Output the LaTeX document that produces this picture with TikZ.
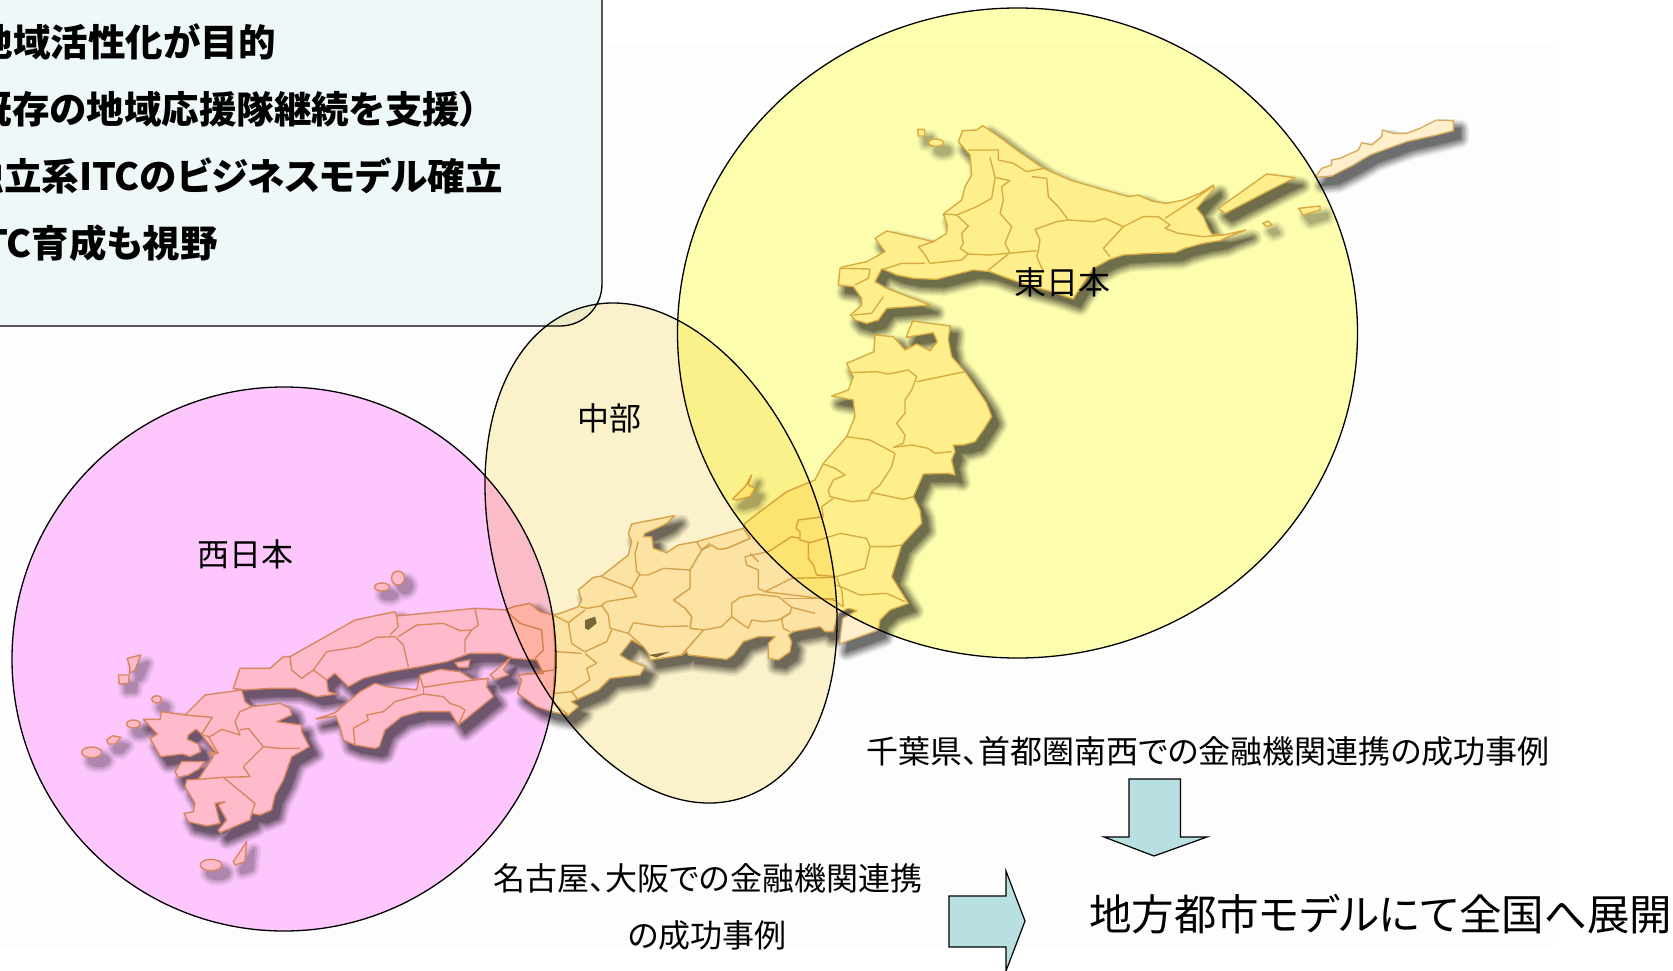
\documentclass[tikz,border=0pt]{standalone}
\usepackage{fontspec}
\setmainfont{Noto Sans CJK JP}[RawFeature={+palt}]
\usetikzlibrary{shapes.geometric}
\definecolor{landfill}{HTML}{FFEFCC}
\definecolor{landline}{HTML}{D8AC60}
\definecolor{westc}{HTML}{FFC8FF}
\definecolor{eastc}{HTML}{FFFFB0}
\definecolor{midc}{HTML}{FDF3CC}
\definecolor{boxc}{HTML}{EEF8F8}
\definecolor{arrowc}{HTML}{B8DFE2}
\definecolor{bgc}{HTML}{FDFDFD}
\definecolor{lakec}{HTML}{7A6C48}
\tikzset{
  zh/.style={shift={(830,100)},x=0.33333pt,y=-0.33333pt},
  zt/.style={shift={(720,320)},x=0.33333pt,y=-0.33333pt},
  zc/.style={shift={(500,500)},x=0.33333pt,y=-0.33333pt},
  zw/.style={shift={(220,590)},x=0.33333pt,y=-0.33333pt},
  zk/.style={shift={(70,640)},x=0.33333pt,y=-0.33333pt},
  zq/.style={shift={(1290,100)},x=0.33333pt,y=-0.33333pt},
  border/.style={draw=landline,line width=1.4pt,line join=round},
  area/.style={ellipse,draw=black,line width=1.3pt,inner sep=0pt,blend mode=multiply},
  lab/.style={font=\fontsize{32}{32}\selectfont,inner sep=0pt},
  boxtext/.style={font=\fontsize{37.5}{37.5}\selectfont\bfseries,inner sep=0pt,anchor=east},
  bigarrow/.style={draw=black,line width=1.2pt,fill=arrowc,line join=miter}
}
% land masses
\newcommand\pHk{plot coordinates {(458,77)(500,105)(560,150)(640,205)(720,240)(815,268)(860,280)(895,290)(925,285)(965,303)(1010,310)(1060,300)(1110,280)(1150,255)(1153,265)(1130,290)(1100,325)(1120,350)(1135,385)(1145,402)(1180,405)(1248,390)(1195,410)(1170,422)(1120,430)(1065,445)(1035,458)(960,460)(880,465)(840,478)(790,505)(740,580)(730,597)(665,575)(590,555)(520,530)(480,515)(430,510)(370,525)(320,538)(250,535)(200,525)(165,510)(155,507)(135,545)(170,565)(300,615)(240,620)(170,625)(145,660)(110,670)(75,660)(62,645)(95,615)(95,595)(70,560)(25,555)(30,505)(40,500)(110,485)(165,455)(135,415)(170,393)(280,418)(310,425)(350,400)(352,375)(340,342)(395,300)(405,260)(425,225)(420,165)(385,125)(398,92)(440,90)} -- cycle}
\newcommand\pKu{plot coordinates {(1165,325)(1310,222)(1395,233)(1330,265)(1185,340)} -- cycle}
\newcommand\pEt{plot coordinates {(75,232)(95,205)(125,195)(125,180)(150,175)(205,150)(215,128)(245,135)(275,110)(278,90)(310,100)(350,100)(390,85)(440,60)(490,62)(490,92)(440,105)(350,125)(240,165)(190,195)(125,228)} -- cycle}
\newcommand\pEast{plot coordinates {(578,3)(690,18)(685,60)(695,110)(735,155)(770,205)(800,250)(815,290)(790,330)(765,365)(730,375)(700,375)(705,395)(695,420)(705,465)(685,460)(610,462)(580,530)(600,570)(605,610)(545,675)(515,770)(565,850)(510,870)(480,900)(475,930)(358,972)(368,895)(410,872)(385,865)(355,880)(345,915)(340,935)(315,935)(300,920)(220,935)(205,945)(215,965)(210,995)(175,1020)(145,1015)(145,970)(165,950)(115,950)(70,965)(40,1005)(20,1018)(-95,1005)(-100,995)(-115,1005)(-50,930)(-90,925)(-85,890)(-105,865)(-140,840)(-90,805)(-90,750)(-55,690)(-25,675)(-5,688)(20,685)(90,655)(70,625)(75,610)(120,575)(200,515)(285,480)(310,430)(380,350)(405,290)(400,240)(335,228)(385,210)(400,170)(380,130)(462,95)(465,45)(520,50)(555,90)(590,72)(630,92)(652,65)(640,38)(558,52)} -- cycle}
\newcommand\pChu{plot coordinates {(385,100)(395,72)(523,47)(500,70)(470,85)(435,100)(430,110)(455,110)(460,145)(500,158)(535,135)(590,125)(730,85)(750,115)(680,145)(655,148)(635,135)(605,150)(570,210)(570,265)(520,300)(555,325)(575,350)(570,385)(610,390)(545,465)(450,480)(445,460)(430,440)(395,420)(360,465)(385,480)(435,500)(420,525)(330,535)(295,570)(215,605)(235,620)(205,645)(160,610)(165,460)(160,345)(180,340)(235,320)(245,300)(235,270)(280,232)(305,228)(385,165)(395,125)} -- cycle}
\newcommand\pWest{plot coordinates {(1000,75)(960,65)(930,40)(880,50)(855,60)(765,55)(530,78)(525,65)(405,90)(210,200)(190,200)(150,235)(60,235)(40,295)(75,300)(150,295)(225,295)(290,320)(350,312)(325,305)(320,270)(345,250)(385,290)(430,265)(510,245)(600,230)(680,215)(750,190)(840,190)(880,205)(950,210)(970,250)(895,255)(905,270)(893,310)(950,350)(995,365)(1045,375)(1000,340)(1005,190)} -- cycle}
\newcommand\pShi{plot coordinates {(288,387)(345,368)(420,305)(465,280)(500,290)(590,300)(600,255)(660,238)(720,245)(760,270)(805,265)(800,290)(820,320)(715,405)(690,365)(600,365)(545,380)(495,420)(478,470)(465,475)(405,465)(370,450)(360,410)(347,378)} -- cycle}
\newcommand\pKyu{plot coordinates {(405,165)(515,150)(525,185)(545,200)(630,190)(660,205)(665,225)(620,245)(695,255)(695,275)(718,320)(665,350)(640,420)(615,465)(605,510)(570,525)(545,520)(540,540)(450,578)(445,570)(470,540)(445,495)(465,485)(435,490)(450,550)(410,558)(355,545)(342,520)(370,515)(375,490)(345,440)(350,420)(385,418)(430,350)(415,335)(440,340)(415,310)(395,285)(420,235)(345,225)} -- cycle}
\newcommand\pNag{plot coordinates {(220,238)(270,238)(275,215)(345,225)(427,232)(395,282)(378,268)(355,285)(352,298)(385,312)(392,335)(360,350)(338,342)(272,350)(240,295)(262,282)} -- cycle}
\newcommand\pAma{plot coordinates {(315,395)(335,365)(405,365)(385,388)(355,405)(325,412)} -- cycle}
\newcommand\pAwa{plot coordinates {(810,255)(870,205)(850,240)(865,255)(825,268)} -- cycle}
\newcommand\AllLand[1]{%
  \begin{scope}[zh]\path[#1] \pHk; \path[#1] \pKu;\end{scope}
  \begin{scope}[zq]\path[#1] \pEt;\end{scope}
  \begin{scope}[zt]\path[#1] \pEast;\end{scope}
  \begin{scope}[zc]\path[#1] \pChu;\end{scope}
  \begin{scope}[zw]\path[#1] \pWest; \path[#1] \pShi; \path[#1] \pAwa;\end{scope}
  \begin{scope}[zk]\path[#1] \pKyu; \path[#1] \pNag; \path[#1] \pAma;\end{scope}
}
\newcommand\AllIsles[1]{%
  \begin{scope}[zh]
    \path[#1] plot coordinates {(263,88)(283,88)(285,108)(265,108)} -- cycle;
    \path[#1] (318,128) ellipse [x radius=22,y radius=11];
    \path[#1] plot coordinates {(1405,325)(1470,318)(1470,330)(1420,345)} -- cycle;
    \path[#1] plot coordinates {(1298,370)(1315,363)(1325,375)(1310,380)} -- cycle;
  \end{scope}
  \begin{scope}[zt]
    \path[#1] plot coordinates {(38,537)(75,500)(95,465)(85,495)(105,505)(90,530)(50,540)} -- cycle;
  \end{scope}
  \begin{scope}[zw]
    \path[#1] plot coordinates {(705,218)(750,210)(745,232)(715,232)} -- cycle;
  \end{scope}
  \begin{scope}[zk]
    \path[#1] plot coordinates {(172,55)(212,45)(195,90)(178,100)(180,85)} -- cycle;
    \path[#1] plot coordinates {(145,105)(178,105)(175,130)(148,132)} -- cycle;
    \path[#1] (260,178) ellipse [x radius=15,y radius=11];
    \path[#1] (190,252) ellipse [x radius=20,y radius=12];
    \path[#1] plot coordinates {(110,300)(128,287)(152,292)(135,312)(115,312)} -- cycle;
    \path[#1] (65,337) ellipse [x radius=30,y radius=16];
    \path[#1] (423,675) ellipse [x radius=32,y radius=17];
    \path[#1] plot coordinates {(490,665)(530,605)(525,665)(495,675)} -- cycle;
  \end{scope}
  \path[#1] (382,587) ellipse [x radius=7.5,y radius=4];
  \path[#1] (398,578) ellipse [x radius=6.5,y radius=7];
}
\newcommand\ShadowLayer[2]{%
  \begin{scope}[transparency group,opacity=#2,shift={(7,8)}]
    \AllLand{fill=black,draw=black,line width=#1pt,line join=round}
  \end{scope}}
\newcommand\IsleShadow[2]{%
  \begin{scope}[transparency group,opacity=#2,shift={(7,8)}]
    \AllIsles{fill=black,draw=black,line width=#1pt,line join=round}
  \end{scope}}
\begin{document}
\begin{tikzpicture}[x=1pt,y=-1pt]
\clip (0,0) rectangle (1673,971);
\fill[white] (0,0) rectangle (1673,971);
\fill[bgc] (0,43) rectangle (1553,947);
% text box
\draw[fill=boxc,draw=black,line width=1.3pt,rounded corners=42pt] (-80,-80) rectangle (602,326);
\node[boxtext] (t1) at (276,42) {地域活性化が目的};
\node[boxtext] (t2) at (479,109) {既存の地域応援隊継続を支援）};
\node[boxtext] (t3) at (503,176) {独立系ITCのビジネスモデル確立};
\node[boxtext] (t4) at (218,243) {ITC育成も視野};
% shadows
\ShadowLayer{18}{.06}\ShadowLayer{15}{.08}\ShadowLayer{12}{.1}\ShadowLayer{9}{.12}\ShadowLayer{6}{.12}\ShadowLayer{3}{.14}\ShadowLayer{0.5}{.14}
\IsleShadow{15}{.05}\IsleShadow{11}{.08}\IsleShadow{7}{.1}\IsleShadow{3}{.12}
% land
\AllLand{fill=landfill,border}
\AllIsles{fill=landfill,border}
% borders: Hokkaido
\begin{scope}[zh]
\draw[border] plot coordinates {(415,150)(505,150)(505,180)(550,190)(590,215)(640,205)};
\draw[border] plot coordinates {(480,172)(495,232)(540,242)(515,260)(520,300)(510,340)(545,380)(525,430)(540,460)};
\draw[border] plot coordinates {(495,235)(485,295)(440,320)(380,345)(340,342)};
\draw[border] plot coordinates {(380,345)(415,378)(395,400)(400,430)(390,445)(415,462)(480,465)(535,460)};
\draw[border] plot coordinates {(605,230)(650,235)(655,290)(685,320)(715,360)(790,365)(825,355)(880,380)(940,350)(985,350)(1020,375)(1005,385)(1045,400)(1120,410)(1180,405)};
\draw[border] plot coordinates {(715,360)(680,365)(615,388)(630,420)(625,452)(620,470)(640,515)};
\draw[border] plot coordinates {(535,460)(620,452)};
\draw[border] plot coordinates {(535,462)(475,510)};
\draw[border] plot coordinates {(880,380)(820,445)(840,470)};
\draw[border] plot coordinates {(1005,355)(1090,300)(1150,258)};
\draw[border] plot coordinates {(415,462)(395,480)(300,490)(285,465)(265,440)(310,425)};
\draw[border] plot coordinates {(285,490)(215,490)(160,508)};
\draw[border] plot coordinates {(30,505)(120,507)(115,535)(75,555)};
\draw[border] plot coordinates {(160,590)(125,640)(70,645)};
\end{scope}
% borders: Tohoku, Kanto
\begin{scope}[zt]
\draw[border] plot coordinates {(385,158)(470,155)(505,162)(565,150)(590,170)(575,210)(555,240)(555,280)(530,310)(555,345)(550,370)(520,382)};
\draw[border] plot coordinates {(590,185)(735,155)};
\draw[border] plot coordinates {(380,350)(450,360)(525,400)(515,440)(480,495)(455,515)(445,540)(395,545)(330,530)(325,510)(340,480)(375,465)(345,445)(310,432)};
\draw[border] plot coordinates {(520,382)(575,375)(625,385)(645,400)(695,395)};
\draw[border] plot coordinates {(455,518)(550,538)(580,530)};
\draw[border] plot coordinates {(340,535)(305,560)(310,590)(235,600)(228,625)(240,635)(240,660)(270,668)(330,650)(360,640)(440,655)(450,680)(510,680)(545,675)};
\draw[border] plot coordinates {(450,680)(435,745)(350,770)(290,765)(280,735)(265,715)(265,668)};
\draw[border] plot coordinates {(345,772)(215,775)(135,815)};
\draw[border] plot coordinates {(350,795)(420,825)(500,820)(555,845)};
\draw[border] plot coordinates {(240,655)(215,650)(145,695)(75,710)(80,735)(115,750)(115,805)(135,815)(340,840)(370,860)};
\draw[border] plot coordinates {(350,775)(365,810)(370,860)};
\draw[border] plot coordinates {(115,725)(90,700)};
\draw[border] plot coordinates {(-55,690)(-30,670)};
\end{scope}
% borders: Chubu
\begin{scope}[zc]
\draw[border] plot coordinates {(305,230)(395,265)(420,222)(410,215)(405,160)(415,125)};
\draw[border] plot coordinates {(395,265)(410,290)(320,305)(305,315)(325,345)(330,385)(385,400)};
\draw[border] plot coordinates {(420,225)(445,225)(490,205)(570,210)};
\draw[border] plot coordinates {(590,125)(605,150)};
\draw[border] plot coordinates {(305,318)(260,325)(240,320)};
\draw[border] plot coordinates {(205,368)(215,430)(245,450)(255,455)(320,425)(335,390)};
\draw[border] plot coordinates {(160,345)(205,368)(255,330)};
\draw[border] plot coordinates {(400,368)(385,400)(430,440)};
\draw[border] plot coordinates {(400,368)(480,380)(565,378)};
\draw[border] plot coordinates {(610,390)(665,380)(695,350)(695,310)(720,292)(770,283)(835,290)(875,322)(870,340)(845,355)(850,385)(870,395)};
\draw[border] plot coordinates {(695,350)(745,385)(755,360)(790,365)(835,360)(870,340)};
\draw[border] plot coordinates {(850,295)(1005,295)};
\draw[border] plot coordinates {(875,322)(945,340)};
\draw[border] plot coordinates {(255,460)(290,490)(260,505)(270,540)(215,575)(165,580)};
\draw[border] plot coordinates {(165,455)(245,460)};
\draw[border] plot coordinates {(215,575)(235,600)};
\fill[lakec] plot coordinates {(255,360)(285,350)(290,370)(265,390)(255,385)} -- cycle;
\fill[lakec] plot coordinates {(445,465)(510,455)(470,472)} -- cycle;
\end{scope}
% borders: Chugoku, Kansai, Shikoku
\begin{scope}[zw]
\draw[border] plot coordinates {(210,200)(215,240)(245,265)(280,240)(320,185)(415,170)(470,142)(525,140)(550,165)(565,230)};
\draw[border] plot coordinates {(530,78)(535,110)(510,135)};
\draw[border] plot coordinates {(535,140)(590,105)(670,100)(720,122)(755,120)(775,105)(765,55)};
\draw[border] plot coordinates {(755,120)(735,150)(735,190)};
\draw[border] plot coordinates {(280,240)(320,270)};
\draw[border] plot coordinates {(855,60)(900,100)(965,120)(970,180)(945,205)};
\draw[border] plot coordinates {(895,255)(1000,240)};
\draw[border] plot coordinates {(600,260)(610,292)(700,278)(805,265)};
\draw[border] plot coordinates {(405,465)(400,415)(445,390)(440,375)(490,365)(525,335)(610,312)(670,320)(690,340)(720,350)(735,360)(715,405)};
\draw[border] plot coordinates {(610,292)(610,312)};
\end{scope}
% borders: Kyushu
\begin{scope}[zk]
\draw[border] plot coordinates {(395,285)(420,290)(455,268)(510,285)(495,245)(510,215)(545,200)};
\draw[border] plot coordinates {(510,270)(535,265)(580,320)(625,325)(690,325)};
\draw[border] plot coordinates {(580,320)(520,380)(540,410)(460,412)(385,418)};
\draw[border] plot coordinates {(460,412)(555,490)(545,520)};
\draw[border] plot coordinates {(415,290)(445,340)(418,345)};
\end{scope}
% regions
\node[area,fill=westc,minimum width=544pt,minimum height=544pt] (west) at (284,659) {};
\node[area,fill=midc,minimum width=328pt,minimum height=516pt,rotate=18.7] (mid) at (661,553) {};
\node[area,fill=eastc,minimum width=680pt,minimum height=650pt] (east) at (1017.5,333) {};
\node[lab] (lw) at (245,554) {西日本};
\node[lab] (lm) at (609,418) {中部};
\node[lab] (le) at (1062,282) {東日本};
\node[lab] (c1) at (1208,751) {千葉県、首都圏南西での金融機関連携の成功事例};
\node[lab] (n1) at (708,878) {名古屋、大阪での金融機関連携};
\node[lab] (n2) at (707,935) {の成功事例};
\node[font=\fontsize{42.5}{42.5}\selectfont,inner sep=0pt,anchor=west] (big) at (1089,914) {地方都市モデルにて全国へ展開};
% block arrows
\draw[bigarrow] (1129,779) -- (1180.5,779) -- (1180.5,837) -- (1207,837) -- (1154,856) -- (1104,837) -- (1129,837) -- cycle;
\draw[bigarrow] (949,896) -- (1006,896) -- (1006,871) -- (1025,921) -- (1006,971) -- (1006,947) -- (949,947) -- cycle;
\end{tikzpicture}
\end{document}
